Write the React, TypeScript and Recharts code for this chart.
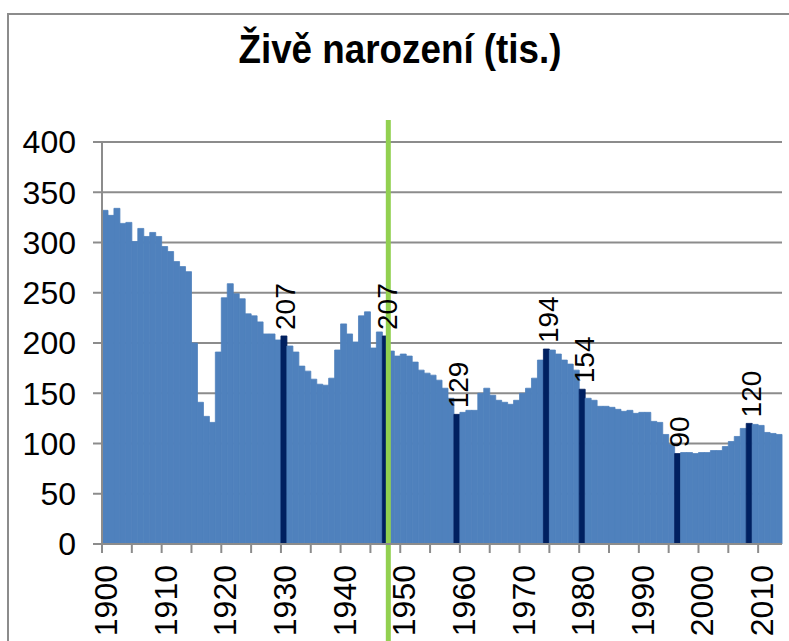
import {
  Bar,
  CartesianGrid,
  Cell,
  ComposedChart,
  LabelList,
  Line,
  ReferenceLine,
  XAxis,
  YAxis,
} from 'recharts'

const FIRST_YEAR = 1900

// live births in thousands, 1900-2013
const BIRTHS = [
  332, 327, 334, 319, 320, 301, 314, 306, 310, 306,
  296, 291, 281, 276, 271, 200, 141, 127, 121, 191,
  245, 259, 249, 244, 229, 227, 221, 209, 209, 203,
  207, 197, 191, 177, 172, 164, 159, 158, 165, 193,
  219, 209, 201, 227, 231, 195, 211, 207, 192, 187,
  189, 187, 181, 173, 170, 168, 163, 155, 145, 129,
  131, 133, 133, 150, 155, 148, 143, 141, 139, 143,
  150, 155, 165, 183, 194, 193, 189, 183, 179, 173,
  154, 145, 143, 137, 137, 136, 134, 132, 133, 130,
  131, 131, 122, 121, 109, 99, 90, 91, 91, 90,
  91, 91, 93, 93, 97, 102, 107, 115, 120, 119,
  118, 111, 110, 109,
]

const HIGHLIGHT_YEARS = [1930, 1947, 1959, 1974, 1980, 1996, 2008]
const MARKER_YEAR = 1948
const Y_TICKS = [0, 50, 100, 150, 200, 250, 300, 350, 400]

const BAR_COLOR = '#4F81BD'
const DARK_COLOR = '#002060'
const GREEN = '#92D050'
const GRID_COLOR = '#8C8C8C'

const CHART_W = 789
const CHART_H = 641
const MARGIN = { top: 142, right: 7, bottom: 0, left: 0 }
const Y_AXIS_W = 102
const X_AXIS_H = 97
const BAND = (CHART_W - MARGIN.left - MARGIN.right - Y_AXIS_W) / BIRTHS.length

const data = BIRTHS.map((births, i) => {
  const year = FIRST_YEAR + i
  const hi = HIGHLIGHT_YEARS.includes(year)
  return { year, births, mark: hi ? births : null, hi }
})

function YearTick(props: any) {
  const { x, y, payload } = props
  const idx = payload.value - FIRST_YEAR
  return (
    <g>
      {idx % 5 === 0 && (
        <line x1={x - BAND / 2} x2={x - BAND / 2} y1={y} y2={y + 9} stroke={GRID_COLOR} strokeWidth={2} />
      )}
      {idx % 10 === 0 && (
        <text
          transform={`translate(${x + 1},${y + 21}) rotate(-90)`}
          textAnchor="end"
          dominantBaseline="central"
          fontSize={32}
          fill="#000"
        >
          {payload.value}
        </text>
      )}
    </g>
  )
}

function ValueLabel(props: any) {
  const { x, y, value } = props
  if (value == null) return null
  return (
    <text
      transform={`translate(${x + 2},${y - 6}) rotate(-90)`}
      textAnchor="start"
      dominantBaseline="central"
      fontSize={28}
      fill="#000"
    >
      {value}
    </text>
  )
}

function MarkerLine(props: any) {
  const top = Math.min(props.y1, props.y2) - 22
  const bottom = Math.max(props.y1, props.y2) + X_AXIS_H
  return <line x1={props.x1} x2={props.x2} y1={top} y2={bottom} stroke={GREEN} strokeWidth={5} />
}

export default function App() {
  return (
    <div
      style={{
        position: 'fixed',
        left: 0,
        top: 0,
        width: CHART_W,
        height: CHART_H,
        overflow: 'hidden',
        background: '#fff',
        fontFamily: '"Liberation Sans", Arial, sans-serif',
      }}
    >
      <div
        style={{
          position: 'absolute',
          left: 7,
          top: 13,
          width: 820,
          height: 720,
          border: '2px solid #8C8C8C',
        }}
      />
      <div
        style={{
          position: 'absolute',
          left: 0,
          top: 29,
          width: 800,
          textAlign: 'center',
          fontSize: 40,
          fontWeight: 'bold',
          lineHeight: 1,
          transform: 'scaleX(0.92)',
          transformOrigin: '400px 0',
        }}
      >
        Živě narození (tis.)
      </div>
      <div style={{ position: 'absolute', left: 0, top: 0 }}>
        <ComposedChart
          width={CHART_W}
          height={CHART_H}
          data={data}
          margin={MARGIN}
          barCategoryGap={0}
          barGap={0}
        >
          <CartesianGrid vertical={false} stroke={GRID_COLOR} strokeWidth={2} />
          <XAxis
            dataKey="year"
            interval={0}
            height={X_AXIS_H}
            tickLine={false}
            tickSize={0}
            tickMargin={0}
            axisLine={{ stroke: GRID_COLOR, strokeWidth: 2 }}
            tick={<YearTick />}
          />
          <YAxis
            domain={[0, 400]}
            ticks={Y_TICKS}
            width={Y_AXIS_W}
            tickSize={9}
            tickMargin={17}
            axisLine={{ stroke: GRID_COLOR, strokeWidth: 2 }}
            tickLine={{ stroke: GRID_COLOR, strokeWidth: 2 }}
            tick={{ fill: '#000', fontSize: 32 }}
          />
          <Bar dataKey="births" isAnimationActive={false}>
            {data.map((d) => (
              <Cell
                key={d.year}
                fill={d.hi ? DARK_COLOR : BAR_COLOR}
                stroke={d.hi ? DARK_COLOR : BAR_COLOR}
                strokeWidth={0.8}
              />
            ))}
          </Bar>
          <ReferenceLine x={MARKER_YEAR} position="start" shape={<MarkerLine />} />
          <Line
            dataKey="mark"
            stroke="none"
            dot={false}
            activeDot={false}
            isAnimationActive={false}
          >
            <LabelList dataKey="mark" content={<ValueLabel />} />
          </Line>
        </ComposedChart>
      </div>
    </div>
  )
}
